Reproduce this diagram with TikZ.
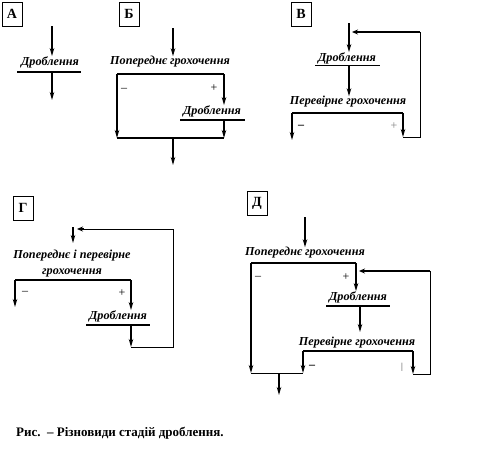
\documentclass[tikz,border=0pt]{standalone}
\usepackage{fontspec}
\setmainfont{Liberation Serif}
\usetikzlibrary{arrows.meta, positioning}

\tikzset{
  panel/.style={draw, line width=0.6pt, minimum width=20pt, minimum height=24pt, inner sep=0pt, font=\bfseries\fontsize{14}{16}\selectfont},
  lab/.style={font=\bfseries\itshape\fontsize{12.2}{16}\selectfont, inner sep=0pt, align=center},
  sign/.style={font=\fontsize{12}{14}\selectfont, inner sep=0pt},
  flow/.style={line width=1.5pt, -{Stealth[length=8pt,width=4.5pt]}},
  back/.style={line width=1.4pt, -{Stealth[length=6pt,width=5pt]}},
  bar/.style={line width=2.4pt},
  bond/.style={line width=1.2pt},
  ret/.style={line width=0.8pt},
}

\begin{document}
\begin{tikzpicture}[x=1pt,y=-1pt]
  \useasboundingbox (0,0) rectangle (488,456);

  % --- А
  \node[panel] (pA) at (12,14) {А};
  \coordinate (a0) at (52,26);
  \node[lab] (aD) at (50,62) {Дроблення};
  \coordinate (aL) at (17,72);
  \coordinate (aR) at (81,72);
  \coordinate (a1) at (52,100);
  \draw[flow] (a0) -- (a0 |- aD.north);
  \draw[line width=1.6pt] (aL) -- (aR);
  \draw[flow] (a1 |- aL) -- (a1);

  % --- Б
  \node[panel] (pB) at (129,14) {Б};
  \coordinate (b0) at (173,28);
  \node[lab] (bP) at (170,62) {Попереднє грохочення};
  \coordinate (bL) at (117,74);
  \coordinate (bR) at (224,74);
  \draw[flow] (b0) -- (b0 |- bP.north);
  \draw[bar] (bL) -- (bR);
  \node[sign] (bm) at (124,90) {–};
  \node[sign] (bp) at (214,88) {+};
  \node[lab] (bD) at (212,111) {Дроблення};
  \coordinate (bDl) at (180,120);
  \coordinate (bDr) at (245,120);
  \draw[flow] (bR) -- (bR |- bD.north);
  \draw[bar] (bDl) -- (bDr);
  \coordinate (bBl) at (117,138);
  \coordinate (bBr) at (224,138);
  \draw[flow] (bL) -- (bBl);
  \draw[flow] (bR |- bDl) -- (bBr);
  \draw[bond] (bBl) -- (bBr);
  \coordinate (bO) at (173,165);
  \draw[flow] (bO |- bBl) -- (bO);

  % --- В
  \node[panel] (pV) at (301,14) {В};
  \coordinate (v0) at (349,23);
  \coordinate (vT) at (420,32);
  \node[lab] (vD) at (347,58) {Дроблення};
  \coordinate (vDl) at (315,65);
  \coordinate (vDr) at (380,65);
  \draw[flow] (v0) -- (v0 |- vD.north);
  \draw[ret] (vDl) -- (vDr);
  \node[lab] (vP) at (348,102) {Перевірне грохочення};
  \draw[flow] (v0 |- vDl) -- (v0 |- vP.north);
  \coordinate (vL) at (292,113);
  \coordinate (vR) at (403,113);
  \draw[bar] (vL) -- (vR);
  \node[sign] (vm) at (301,127) {\bfseries –};
  \node[sign, text=gray] (vp) at (394,126) {+};
  \coordinate (vOl) at (292,140);
  \coordinate (vOr) at (403,137);
  \draw[flow] (vL) -- (vOl);
  \draw[flow] (vR) -- (vOr);
  \draw[ret] (vOr) -- (vT |- vOr) -- (vT);
  \draw[back, line width=2.4pt] (vT) -- (352,32);

  % --- Г
  \node[panel] (pG) at (23,208) {Г};
  \coordinate (g0) at (73,227);
  \coordinate (gT) at (173,229);
  \node[lab] (gP) at (72,264) {Попереднє і перевірне\\грохочення};
  \draw[flow] (g0) -- (73,243);
  \coordinate (gL) at (15,280);
  \coordinate (gR) at (131,280);
  \draw[bar] (gL) -- (gR);
  \node[sign] (gm) at (25,293) {–};
  \node[sign] (gp) at (122,293) {+};
  \node[lab] (gD) at (118,316) {Дроблення};
  \coordinate (gDl) at (86,325);
  \coordinate (gDr) at (150,325);
  \draw[flow] (gL) -- (15,307);
  \draw[flow] (gR) -- (gR |- gD.north);
  \draw[bar] (gDl) -- (gDr);
  \coordinate (gB) at (131,347);
  \draw[flow] (gR |- gDl) -- (gB);
  \draw[ret] (gB) -- (gT |- gB) -- (gT);
  \draw[ret] (gT) -- (82,229);
  \draw[back] (84,229) -- (77,229);

  % --- Д
  \node[panel] (pD) at (257,203) {Д};
  \coordinate (d0) at (305,217);
  \node[lab] (dP) at (305,253) {Попереднє грохочення};
  \draw[flow] (d0) -- (d0 |- dP.north);
  \coordinate (dL) at (251,263);
  \coordinate (dR) at (356,263);
  \draw[bar] (dL) -- (dR);
  \node[sign] (dm) at (258,278) {–};
  \node[sign] (dp) at (346,277) {+};
  \coordinate (dT) at (430,271);
  \node[lab] (dD) at (358,297) {Дроблення};
  \coordinate (dDl) at (326,306);
  \coordinate (dDr) at (390,306);
  \draw[flow] (dR) -- (dR |- dD.north);
  \draw[bar] (dDl) -- (dDr);
  \node[lab] (dV) at (357,343) {Перевірне грохочення};
  \draw[flow] (360,306) -- (360,332);
  \coordinate (dVl) at (303,351);
  \coordinate (dVr) at (413,351);
  \draw[bar] (dVl) -- (dVr);
  \node[sign] (dm2) at (312,367) {\bfseries –};
  \node[sign, text=gray!70] (dp2) at (402,367) {\sffamily I};
  \coordinate (dBl) at (251,373);
  \coordinate (dBm) at (303,373);
  \coordinate (dBr) at (413,374);
  \draw[flow] (dL) -- (dBl);
  \draw[flow] (dVl) -- (dBm);
  \draw[flow] (dVr) -- (dBr);
  \draw[ret] (dBl) -- (dBm);
  \draw[ret] (dBr) -- (dT |- dBr) -- (dT);
  \draw[back, line width=2.4pt] (dT) -- (359,271);
  \coordinate (dO) at (279,395);
  \draw[flow] (dO |- dBl) -- (dO);

  % --- caption
  \node[anchor=west, inner sep=0pt, font=\bfseries\fontsize{13}{15}\selectfont] (cap) at (16,433) {Рис.\ \ – Різновиди стадій дроблення.};
\end{tikzpicture}
\end{document}
